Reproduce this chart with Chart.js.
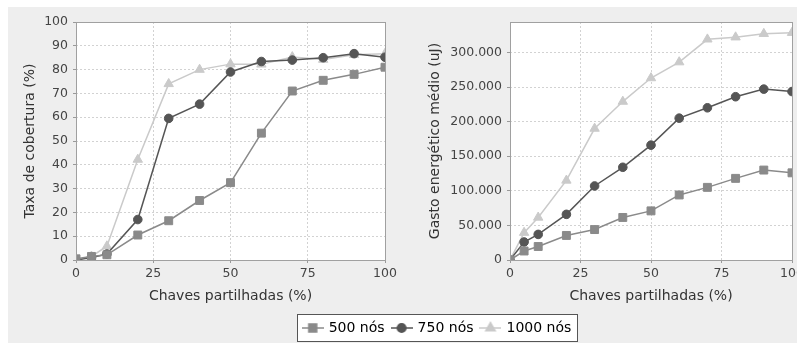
<!DOCTYPE html>
<html>
<head>
<meta charset="utf-8">
<script src="https://cdn.jsdelivr.net/npm/chart.js@4/dist/chart.umd.min.js"></script>
<style>
  html, body { margin: 0; padding: 0; background: #fff; overflow: hidden; }
  body { width: 797px; height: 343px; position: relative; }
  #panel { position: absolute; left: 8px; top: 7px; right: 0; bottom: 0; background: #eeeeee; }
  #cobertura { position: absolute; left: 8px; top: 7px; }
  #energia { position: absolute; left: 400px; top: 7px; }
  #legendBox {
    position: absolute; left: 297px; top: 314px; width: 281px; height: 28px;
    box-sizing: border-box; border: 1px solid #555; background: #fff; overflow: hidden;
  }
  #legenda { position: absolute; left: -30px; top: -2px; }
</style>
</head>
<body>
<div id="panel"></div>
<canvas id="cobertura" width="392" height="300"></canvas>
<canvas id="energia" width="420" height="300"></canvas>
<div id="legendBox"><canvas id="legenda" width="339" height="60"></canvas></div>
<script>
// percentagem de chaves partilhadas
const chaves = [0, 5, 10, 20, 30, 40, 50, 60, 70, 80, 90, 100];

// taxa de cobertura (%)
const cobertura500 = [0.5, 1.5, 2.2, 10.5, 16.5, 25, 32.5, 53.3, 71, 75.5, 78, 81];
const cobertura750 = [0, 1, 2.5, 17, 59.5, 65.5, 79, 83.4, 84, 85, 86.7, 85.2];
const cobertura1000 = [0, 1.5, 5.8, 42.2, 74, 80, 82.3, 82.2, 85.3, 84.2, 86.2, 86.7];

// gasto energetico medio (uJ)
const energia500 = [0, 13000, 19500, 35500, 44000, 61500, 71000, 94000, 105000, 118000, 130000, 126000];
const energia750 = [0, 26000, 37000, 66000, 107000, 134000, 166000, 205000, 220000, 236000, 247000, 243500];
const energia1000 = [0, 39500, 61500, 115000, 190000, 229000, 263000, 286000, 319000, 322000, 327000, 328500];

// eixos
const ticksX = [0, 25, 50, 75, 100];
const ticksCobertura = [0, 10, 20, 30, 40, 50, 60, 70, 80, 90, 100];
const ticksEnergia = [0, 50000, 100000, 150000, 200000, 250000, 300000];

const series = [
  { label: '500 nós', color: '#8a8a8a', point: 'rect', radius: 5.6 },
  { label: '750 nós', color: '#555555', point: 'circle', radius: 4.3 },
  { label: '1000 nós', color: '#cacaca', point: 'triangle', radius: 5.4 }
];

Chart.defaults.font.family = "'DejaVu Sans', Verdana, sans-serif";
Chart.defaults.color = '#444';
Chart.defaults.animation = false;

const pontos = (ys) => chaves.map((x, i) => ({ x: x, y: ys[i] }));

const datasets = (lists) => lists.map((ys, i) => ({
  label: series[i].label,
  data: pontos(ys),
  borderColor: series[i].color,
  backgroundColor: series[i].color,
  borderWidth: 1.5,
  pointStyle: series[i].point,
  pointRadius: series[i].radius,
  pointBorderWidth: 1,
  pointBorderColor: series[i].color,
  pointBackgroundColor: series[i].color,
  tension: 0
}));

// white plot area with a grey frame on all four sides
const plotFrame = {
  id: 'plotFrame',
  beforeDraw(chart) {
    const a = chart.chartArea, ctx = chart.ctx;
    ctx.save();
    ctx.fillStyle = '#fff';
    ctx.fillRect(a.left, a.top, a.right - a.left, a.bottom - a.top);
    ctx.restore();
  },
  afterDraw(chart) {
    const a = chart.chartArea, ctx = chart.ctx;
    ctx.save();
    ctx.strokeStyle = '#a0a0a0';
    ctx.lineWidth = 1;
    ctx.strokeRect(Math.round(a.left) + 0.5, Math.round(a.top) + 0.5,
      Math.round(a.right - a.left), Math.round(a.bottom - a.top));
    ctx.restore();
  }
};

const milhares = (v) => String(v).replace(/\B(?=(\d{3})+(?!\d))/g, '.');
const fixos = (values) => (s) => { s.ticks = values.map((v) => ({ value: v })); };

function options(yTitle, yMax, yTicks, yWidth, yTitlePad, yFmt) {
  const grid = { color: '#d2d2d2', drawTicks: true, tickLength: 3, tickColor: '#999', tickBorderDash: [] };
  const border = { display: false, dash: [2, 2] };
  return {
    responsive: false,
    layout: { padding: { left: 0, right: 0, top: 15, bottom: 0 } },
    plugins: { legend: { display: false }, tooltip: { enabled: false } },
    scales: {
      x: {
        type: 'linear', min: 0, max: 100,
        grid: grid, border: border,
        afterBuildTicks: fixos(ticksX),
        ticks: { padding: 3, maxRotation: 0, autoSkip: false, font: { size: 12.5 } },
        title: { display: true, text: 'Chaves partilhadas (%)', font: { size: 14 }, color: '#333', padding: { top: 0, bottom: 2.6 } },
        afterFit: (s) => { s.height = 47; }
      },
      y: {
        min: 0, max: yMax,
        grid: grid, border: border,
        afterBuildTicks: fixos(yTicks),
        ticks: { padding: 5, autoSkip: false, font: { size: 12.5 }, callback: yFmt },
        title: { display: true, text: yTitle, font: { size: 14 }, color: '#333', padding: { top: yTitlePad, bottom: 0 } },
        afterFit: (s) => { s.width = yWidth; }
      }
    }
  };
}

const optCob = options('Taxa de cobertura (%)', 100, ticksCobertura, 68, 13.6, (v) => v);
optCob.layout.padding.right = 15;
new Chart(document.getElementById('cobertura'), {
  type: 'line',
  data: { datasets: datasets([cobertura500, cobertura750, cobertura1000]) },
  options: optCob,
  plugins: [plotFrame]
});

const optEn = options('Gasto energético médio (uJ)', 344000, ticksEnergia, 110, 26.6, milhares);
optEn.layout.padding.right = 28;
new Chart(document.getElementById('energia'), {
  type: 'line',
  data: { datasets: datasets([energia500, energia750, energia1000]) },
  options: optEn,
  plugins: [plotFrame]
});

// legend icons: short line with the series marker in the middle
function icone(s) {
  const c = document.createElement('canvas');
  c.width = 22; c.height = 14;
  const ctx = c.getContext('2d');
  ctx.strokeStyle = s.color;
  ctx.lineWidth = 1.5;
  ctx.beginPath(); ctx.moveTo(0, 7); ctx.lineTo(22, 7); ctx.stroke();
  ctx.fillStyle = s.color;
  Chart.helpers.drawPoint(ctx, { pointStyle: s.point, radius: s.radius, borderWidth: 1 }, 11, 7);
  return c;
}

new Chart(document.getElementById('legenda'), {
  type: 'line',
  data: { datasets: series.map((s) => ({ label: s.label, data: [], borderColor: s.color, backgroundColor: s.color })) },
  options: {
    responsive: false,
    layout: { padding: 0 },
    scales: { x: { display: false }, y: { display: false } },
    plugins: {
      tooltip: { enabled: false },
      legend: {
        position: 'top',
        align: 'center',
        labels: {
          usePointStyle: true,
          pointStyleWidth: 18,
          padding: 8,
          color: '#222',
          font: { size: 14 },
          generateLabels: () => series.map((s, i) => ({
            text: s.label,
            pointStyle: icone(s),
            fillStyle: s.color,
            strokeStyle: s.color,
            lineWidth: 0,
            datasetIndex: i,
            hidden: false
          }))
        }
      }
    }
  }
});
</script>
</body>
</html>
